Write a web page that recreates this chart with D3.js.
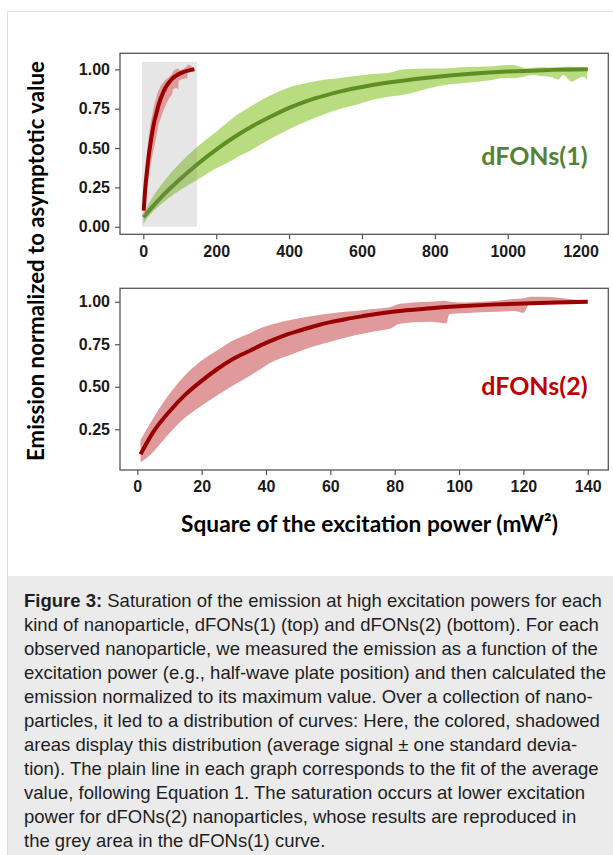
<!DOCTYPE html>
<html>
<head>
<meta charset="utf-8">
<script src="https://cdn.jsdelivr.net/npm/d3@7"></script>
<style>
  html, body { margin: 0; padding: 0; background: #fff; }
  svg { display: block; }
</style>
</head>
<body>
<div id="chart"></div>
<script>
// ---------------- DATA ----------------
// dFONs(1): fit of the average (x = square of excitation power, mW^2)
const greenFitX = [0, 50, 100, 150, 200, 250, 300, 350, 400, 450, 500, 550, 600, 650, 700, 800, 900, 1000, 1100, 1220];
const greenFit  = [0.06, 0.19, 0.30, 0.40, 0.49, 0.57, 0.64, 0.70, 0.755, 0.80, 0.835, 0.865, 0.888, 0.908, 0.925, 0.952, 0.972, 0.986, 0.995, 1.0];
// dFONs(1): average ± one standard deviation
const greenBandX = [0, 18, 63, 109, 154, 200, 245, 263, 291, 309, 354, 400, 445, 491, 536, 582, 627, 673, 718, 782, 827, 873, 918, 964, 991, 1015, 1052, 1070, 1089, 1116, 1139, 1152, 1176, 1194, 1207, 1218];
const greenUpper = [0.08, 0.159, 0.307, 0.424, 0.519, 0.604, 0.69, 0.72, 0.76, 0.785, 0.84, 0.885, 0.911, 0.932, 0.943, 0.957, 0.970, 0.978, 1.0, 1.006, 1.006, 1.013, 1.017, 1.02, 1.027, 1.027, 1.006, 1.01, 1.013, 1.012, 1.013, 1.015, 1.017, 1.013, 1.012, 1.008];
const greenLower = [0.017, 0.074, 0.170, 0.244, 0.307, 0.371, 0.424, 0.45, 0.48, 0.505, 0.565, 0.62, 0.667, 0.710, 0.746, 0.773, 0.805, 0.826, 0.84, 0.879, 0.900, 0.911, 0.921, 0.936, 0.945, 0.943, 0.958, 0.964, 0.958, 0.953, 0.936, 0.964, 0.921, 0.943, 0.953, 0.932];

// dFONs(2): fit of the average
const redFitX = [1, 5, 10, 15, 20, 25, 30, 35, 40, 45, 50, 55, 60, 65, 70, 80, 90, 100, 110, 120, 130, 140];
const redFit  = [0.103, 0.235, 0.355, 0.455, 0.535, 0.606, 0.666, 0.712, 0.758, 0.797, 0.828, 0.856, 0.88, 0.899, 0.915, 0.943, 0.96, 0.973, 0.983, 0.99, 0.996, 1.0];
// dFONs(2): average ± one standard deviation
const redBandX = [1, 4, 9, 14, 19.5, 25, 30, 35, 37, 42, 47.5, 53, 58, 63, 68, 73, 79, 81, 86, 91, 96, 97, 101, 107, 112, 117, 120, 122, 126, 130, 135, 140];
const redUpper = [0.187, 0.285, 0.432, 0.550, 0.647, 0.716, 0.775, 0.815, 0.834, 0.867, 0.892, 0.912, 0.926, 0.938, 0.945, 0.957, 0.971, 0.985, 0.996, 1.0, 1.006, 1.0, 0.996, 1.0, 1.006, 1.016, 1.02, 1.03, 1.03, 1.025, 1.015, 1.008];
const redLower = [0.056, 0.099, 0.206, 0.305, 0.383, 0.451, 0.510, 0.565, 0.588, 0.647, 0.687, 0.726, 0.755, 0.781, 0.804, 0.824, 0.844, 0.867, 0.879, 0.882, 0.873, 0.926, 0.932, 0.938, 0.941, 0.945, 0.935, 0.99, 0.985, 0.985, 0.985, 0.99];

// Grey area (range of dFONs(2) reproduced in the dFONs(1) panel)
const greyArea = { x0: -4, x1: 147, y0: 0, y1: 1.048 };

// Tick labels
const topXTicks = [0, 200, 400, 600, 800, 1000, 1200];
const topYTicks = [0, 0.25, 0.5, 0.75, 1.0];
const botXTicks = [0, 20, 40, 60, 80, 100, 120, 140];
const botYTicks = [0.25, 0.5, 0.75, 1.0];

// Texts
const yTitle = "Emission normalized to asymptotic value";
const xTitle = "Square of the excitation power (mW²)";
const label1 = "dFONs(1)";
const label2 = "dFONs(2)";
const captionBold = "Figure 3:";
const captionLines = [
  " Saturation of the emission at high excitation powers for each",
  "kind of nanoparticle, dFONs(1) (top) and dFONs(2) (bottom). For each",
  "observed nanoparticle, we measured the emission as a function of the",
  "excitation power (e.g., half-wave plate position) and then calculated the",
  "emission normalized to its maximum value. Over a collection of nano-",
  "particles, it led to a distribution of curves: Here, the colored, shadowed",
  "areas display this distribution (average signal ± one standard devia-",
  "tion). The plain line in each graph corresponds to the fit of the average",
  "value, following Equation 1. The saturation occurs at lower excitation",
  "power for dFONs(2) nanoparticles, whose results are reproduced in",
  "the grey area in the dFONs(1) curve."
];

// ---------------- DRAWING ----------------
const W = 613, H = 855;
const svg = d3.select("#chart").append("svg").attr("width", W).attr("height", H);

// card
svg.append("rect").attr("x", 7.5).attr("y", 11.5).attr("width", 700).attr("height", 900)
  .attr("fill", "#fff").attr("stroke", "#dedede").attr("stroke-width", 1);

const C = {
  greenLine: "#5e8e24", greenBand: "#b9dc80",
  redLine: "#990000", redBand: "#e09a9c",
  label1: "#548235", label2: "#c00000",
  frame: "#555"
};

const zip = (xs, ys) => xs.map((x, i) => [x, ys[i]]);
const zip3 = (xs, lo, hi) => xs.map((x, i) => ({ x, lo: lo[i], hi: hi[i] }));

function panel(opts) {
  const { x0, x1, y0, y1, xDom, yDom, xTicks, yTicks } = opts;
  const x = d3.scaleLinear().domain(xDom).range([x0, x1]);
  const y = d3.scaleLinear().domain(yDom).range([y1, y0]);
  const g = svg.append("g");
  const clipId = "clip" + Math.round(y0);
  svg.append("clipPath").attr("id", clipId).append("rect")
    .attr("x", x0).attr("y", y0).attr("width", x1 - x0).attr("height", y1 - y0);
  const plot = g.append("g").attr("clip-path", `url(#${clipId})`);

  const ax = g.append("g").attr("transform", `translate(0,${y1})`)
    .call(d3.axisBottom(x).tickValues(xTicks).tickFormat(d3.format("d")).tickSize(5).tickPadding(6));
  const ay = g.append("g").attr("transform", `translate(${x0},0)`)
    .call(d3.axisLeft(y).tickValues(yTicks).tickFormat(d3.format(".2f")).tickSize(5).tickPadding(5));
  [ax, ay].forEach(a => {
    a.select(".domain").remove();
    a.selectAll("line").attr("stroke", C.frame).attr("stroke-width", 1.2);
    a.selectAll("text").attr("font-family", "'Liberation Sans', Arial, sans-serif")
      .attr("font-weight", "bold").attr("font-size", 16).attr("fill", "#1a1a1a");
  });
  g.append("rect").attr("x", x0).attr("y", y0).attr("width", x1 - x0).attr("height", y1 - y0)
    .attr("fill", "none").attr("stroke", C.frame).attr("stroke-width", 1.3);
  return { x, y, plot };
}

function drawSeries(p, bandX, lo, hi, fitX, fit, bandColor, lineColor) {
  const area = d3.area().x(d => p.x(d.x)).y0(d => p.y(d.lo)).y1(d => p.y(d.hi)).curve(d3.curveMonotoneX);
  p.plot.append("path").datum(zip3(bandX, lo, hi)).attr("d", area).attr("fill", bandColor);
  const line = d3.line().x(d => p.x(d[0])).y(d => p.y(d[1])).curve(d3.curveMonotoneX);
  p.plot.append("path").datum(zip(fitX, fit)).attr("d", line)
    .attr("fill", "none").attr("stroke", lineColor).attr("stroke-width", 4).attr("stroke-linecap", "butt");
}

// Top panel: dFONs(1)
const topP = panel({ x0: 120, x1: 608.3, y0: 53.3, y1: 234.3, xDom: [-64, 1276], yDom: [-0.048, 1.102],
  xTicks: topXTicks, yTicks: topYTicks });
drawSeries(topP, greenBandX, greenLower, greenUpper, greenFitX, greenFit, C.greenBand, C.greenLine);
topP.plot.append("rect")
  .attr("x", topP.x(greyArea.x0)).attr("y", topP.y(greyArea.y1))
  .attr("width", topP.x(greyArea.x1) - topP.x(greyArea.x0))
  .attr("height", topP.y(greyArea.y0) - topP.y(greyArea.y1))
  .attr("fill", "#808080").attr("fill-opacity", 0.2);
drawSeries(topP, redBandX, redLower, redUpper, redFitX, redFit, C.redBand, C.redLine);
svg.append("text").attr("x", 587.5).attr("y", 165).attr("text-anchor", "end")
  .attr("font-family", "Lato, 'Open Sans', sans-serif").attr("font-weight", "bold").attr("font-size", 25)
  .attr("fill", C.label1).text(label1);

// Bottom panel: dFONs(2)
const botP = panel({ x0: 120, x1: 608.3, y0: 288.3, y1: 470, xDom: [-5.38, 146.4], yDom: [0.0106, 1.079],
  xTicks: botXTicks, yTicks: botYTicks });
drawSeries(botP, redBandX, redLower, redUpper, redFitX, redFit, C.redBand, C.redLine);
svg.append("text").attr("x", 587.5).attr("y", 395).attr("text-anchor", "end")
  .attr("font-family", "Lato, 'Open Sans', sans-serif").attr("font-weight", "bold").attr("font-size", 25)
  .attr("fill", C.label2).text(label2);

// Axis titles
svg.append("text").attr("transform", "translate(43.5,261) rotate(-90)").attr("text-anchor", "middle")
  .attr("font-family", "Lato, 'Open Sans', sans-serif").attr("font-weight", "bold").attr("font-size", 22.2)
  .attr("fill", "#000").text(yTitle);
svg.append("text").attr("x", 369.5).attr("y", 531.7).attr("text-anchor", "middle")
  .attr("font-family", "Lato, 'Open Sans', sans-serif").attr("font-weight", "bold").attr("font-size", 22.7)
  .attr("fill", "#000").text(xTitle);

// Caption box
svg.append("rect").attr("x", 8).attr("y", 576).attr("width", W - 8).attr("height", H - 576).attr("fill", "#ebebeb");
const cap = svg.append("g").attr("font-family", "'Liberation Sans', Arial, Helvetica, sans-serif")
  .attr("font-size", 18.5).attr("fill", "#1e1e1e");
captionLines.forEach((ln, i) => {
  const t = cap.append("text").attr("x", 24).attr("y", 606.5 + i * 24);
  if (i === 0) {
    t.append("tspan").attr("font-weight", "bold").text(captionBold);
    t.append("tspan").style("white-space", "pre").text(ln);
  } else {
    t.text(ln);
  }
});
</script>
</body>
</html>
